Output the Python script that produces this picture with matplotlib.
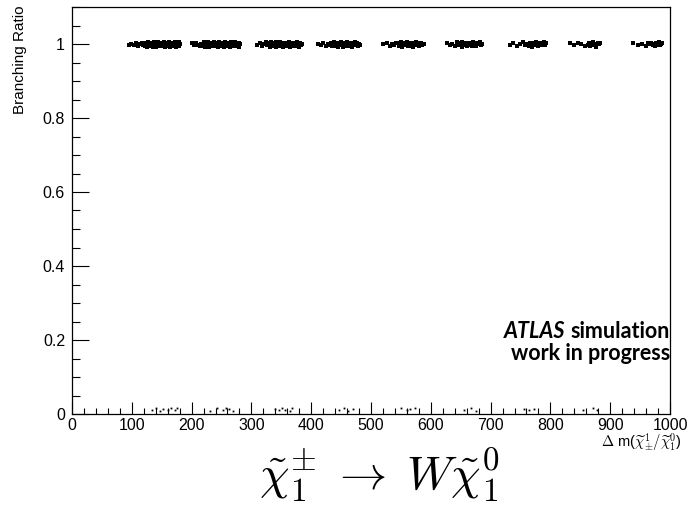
import matplotlib
matplotlib.use("Agg")
import matplotlib.pyplot as plt
from matplotlib.ticker import MultipleLocator

plt.rcParams['font.family'] = ['Liberation Sans', 'DejaVu Sans']
plt.rcParams['mathtext.fontset'] = 'cm'

# scatter of the chargino branching ratio vs mass splitting, one list per mass point
c1_x = [95, 99, 104, 107, 111, 114, 117, 119.5,
        122, 123.2, 124.4, 125.6, 126.8, 128, 129.2, 130.4, 131.6, 132.8,
        134, 135.2, 136.4, 137.6, 138.8, 140, 141.2, 142.4, 143.6, 144.8,
        146, 147.2, 148.4, 149.6, 150.8, 152, 153.2, 154.4, 155.6, 156.8,
        158, 159.2, 160.4, 161.6, 162.8, 164, 165.2, 166.4, 167.6, 168.8,
        170, 171.2, 172.4, 173.6, 174.8, 176, 177.2, 178.4, 179.6, 180.8]
c1_y = [0.997, 1.001, 0.996, 1.003, 0.994, 1.000, 1.004, 0.998,
        0.995, 1.003, 0.999, 0.993, 1.006, 0.997, 1.001, 0.994, 1.004, 0.998,
        1.002, 0.992, 1.005, 0.996, 1.000, 0.993, 1.003, 0.997, 1.006, 0.995,
        1.001, 0.999, 0.994, 1.004, 0.998, 1.002, 0.996, 1.005, 0.993, 1.000,
        0.997, 1.003, 0.995, 1.006, 0.999, 0.992, 1.002, 0.996, 1.004, 0.994,
        1.001, 0.998, 1.005, 0.993, 1.000, 0.997, 1.003, 0.995, 1.006, 0.999]

c2_x = [200, 204, 208, 211, 214, 216,
        217.5, 218.8, 220.1, 221.4, 222.7, 224, 225.3, 226.6, 227.9, 229.2,
        230.5, 231.8, 233.1, 234.4, 235.7, 237, 238.3, 239.6, 240.9, 242.2,
        243.5, 244.8, 246.1, 247.4, 248.7, 250, 251.3, 252.6, 253.9, 255.2,
        256.5, 257.8, 259.1, 260.4, 261.7, 263, 264.3, 265.6, 266.9, 268.2,
        269.5, 270.8, 272.1, 273.4, 274.7, 276, 277.3, 278.6, 279.9, 281.2]
c2_y = [1.002, 0.996, 1.004, 0.998, 0.994, 1.001,
        1.001, 0.994, 1.005, 0.998, 0.992, 1.003, 0.996, 1.000, 1.006, 0.993,
        0.999, 1.004, 0.995, 1.002, 0.997, 1.006, 0.994, 1.001, 0.998, 1.004,
        0.993, 1.000, 1.005, 0.996, 1.002, 0.995, 0.999, 1.003, 0.992, 1.006,
        0.997, 1.001, 0.994, 1.004, 0.998, 1.002, 0.993, 1.005, 0.996, 1.000,
        1.003, 0.995, 0.999, 1.006, 0.994, 1.002, 0.997, 1.004, 0.993, 1.001]

c3_x = [309, 314, 318, 321, 324,
        326.5, 327.9, 329.3, 330.7, 332.1, 333.5, 334.9, 336.3, 337.7, 339.1,
        340.5, 341.9, 343.3, 344.7, 346.1, 347.5, 348.9, 350.3, 351.7, 353.1,
        354.5, 355.9, 357.3, 358.7, 360.1, 361.5, 362.9, 364.3, 365.7, 367.1,
        368.5, 369.9, 371.3, 372.7, 374.1, 375.5, 376.9, 378.3, 379.7, 381.1,
        382.5, 384]
c3_y = [0.998, 1.003, 0.995, 1.000, 1.005,
        0.996, 1.004, 0.999, 0.993, 1.002, 1.006, 0.995, 1.000, 0.997, 1.003,
        0.992, 1.005, 0.998, 1.001, 0.994, 1.006, 0.996, 1.002, 0.999, 0.993,
        1.004, 0.997, 1.000, 0.995, 1.003, 0.998, 1.005, 0.993, 1.001, 0.996,
        1.004, 0.994, 0.999, 1.002, 0.997, 1.006, 0.995, 1.000, 0.993, 1.003,
        0.998, 1.001]

c4_x = [411, 416, 420, 424, 428,
        431.5, 433, 434.5, 436, 437.5, 439, 440.5, 442, 443.5, 445, 446.5,
        448, 449.5, 451, 452.5, 454, 455.5, 457, 458.5, 460, 461.5, 463,
        464.5, 466, 467.5, 469, 470.5, 472, 473.5, 475, 476.5, 478, 479.5, 481]
c4_y = [1.001, 0.996, 1.004, 0.994, 0.999,
        0.997, 1.003, 0.994, 1.000, 1.006, 0.995, 1.002, 0.998, 1.004, 0.993,
        1.001, 0.996, 1.005, 0.999, 0.992, 1.003, 0.997, 1.000, 0.994, 1.006,
        0.998, 1.002, 0.995, 1.004, 0.999, 0.993, 1.001, 0.996, 1.005, 0.997,
        1.003, 0.994, 1.000, 0.998]

c5_x = [520, 526, 531, 535, 539, 542,
        545.5, 547, 548.5, 550, 551.5, 553, 554.5, 556, 557.5, 559, 560.5,
        562, 563.5, 565, 566.5, 568, 569.5, 571, 572.5, 574, 575.5, 577,
        578.5, 580, 581.5, 583, 584.5, 589]
c5_y = [0.999, 1.004, 0.995, 1.001, 0.997, 1.003,
        1.002, 0.995, 0.999, 1.005, 0.993, 1.001, 0.997, 1.004, 0.996, 1.000,
        1.006, 0.994, 0.998, 1.003, 0.995, 1.001, 0.992, 1.004, 0.997, 1.000,
        1.005, 0.996, 1.002, 0.994, 0.999, 1.003, 0.998, 1.000]

c6_x = [627, 632, 636, 640, 643,
        645.5, 647.5, 649.5, 651.5, 653, 655, 657, 659, 661, 663, 664.5,
        666.5, 668.5, 670.5, 672.5, 674.5, 676, 678, 680, 682, 684, 686]
c6_y = [1.003, 0.997, 1.000, 0.994, 1.005,
        0.996, 1.002, 0.999, 1.005, 0.993, 1.001, 0.997, 1.004, 0.995, 1.000,
        1.003, 0.998, 0.994, 1.006, 0.997, 1.001, 0.995, 1.003, 0.999, 1.005,
        0.996, 1.001]

c7_x = [732, 738, 744, 749, 754, 758,
        761.5, 763.5, 765.5, 767.5, 770, 772, 774, 776, 778, 780, 782.5,
        784.5, 786.5, 788.5, 790.5, 792.5]
c7_y = [0.998, 1.003, 0.995, 1.001, 1.005, 0.997,
        1.001, 0.995, 1.004, 0.998, 0.993, 1.002, 0.997, 1.005, 0.999, 0.994,
        1.003, 0.996, 1.000, 1.006, 0.997, 1.002]

c8_x = [833, 840, 846, 852, 858,
        863, 865, 867, 869, 871, 873, 875, 877, 879, 881, 883]
c8_y = [1.002, 0.996, 1.004, 0.999, 0.994,
        0.998, 1.003, 0.995, 1.001, 1.005, 0.997, 1.000, 0.993, 1.004, 0.999,
        1.002]

c9_x = [938, 946, 953, 960, 964,
        967, 969, 971, 973, 975, 977, 979, 981, 983, 985, 987]
c9_y = [1.004, 0.997, 1.001, 0.995, 1.003,
        0.999, 1.004, 0.996, 1.001, 0.994, 1.003, 0.998, 1.005, 0.997, 1.000,
        1.002]

# events with BR ~ 0
low_x = [133, 140, 147, 152, 160, 165, 172, 176,
         230, 243, 252, 258, 262, 270,
         340, 346, 352, 357, 364, 368,
         447, 455, 462, 470,
         550, 560, 565, 573,
         655, 668, 676,
         756, 764, 772,
         855, 872, 878]
low_y = [0.012, 0.016, 0.008, 0.014, 0.010, 0.017, 0.012, 0.015,
         0.009, 0.015, 0.011, 0.017, 0.013, 0.008,
         0.014, 0.010, 0.016, 0.012, 0.009, 0.015,
         0.011, 0.016, 0.008, 0.013,
         0.015, 0.010, 0.013, 0.017,
         0.012, 0.016, 0.009,
         0.014, 0.010, 0.013,
         0.011, 0.015, 0.012]

xs = c1_x + c2_x + c3_x + c4_x + c5_x + c6_x + c7_x + c8_x + c9_x
ys = c1_y + c2_y + c3_y + c4_y + c5_y + c6_y + c7_y + c8_y + c9_y

fig = plt.figure(figsize=(6.97, 5.05), dpi=100)
ax = fig.add_axes([72/697, 1 - 414/505, 598/697, 407/505])

ax.plot(xs, ys, 's', color='black', markersize=2.3, markeredgewidth=0)
ax.plot(low_x, low_y, 's', color='black', markersize=1.3, markeredgewidth=0)

ax.set_xlim(0, 1000)
ax.set_ylim(0, 1.1)
ax.xaxis.set_major_locator(MultipleLocator(100))
ax.xaxis.set_minor_locator(MultipleLocator(20))
ax.yaxis.set_major_locator(MultipleLocator(0.2))
ax.yaxis.set_minor_locator(MultipleLocator(0.05))
ax.set_yticks([0, 0.2, 0.4, 0.6, 0.8, 1])
ax.set_yticklabels(['0', '0.2', '0.4', '0.6', '0.8', '1'])

ax.tick_params(axis='x', which='major', direction='in', length=8.6, width=0.8,
               labelsize=11.5, pad=3)
ax.tick_params(axis='x', which='minor', direction='in', length=4.3, width=0.8)
ax.tick_params(axis='y', which='major', direction='in', length=12.2, width=0.8,
               labelsize=11.5, pad=5)
ax.tick_params(axis='y', which='minor', direction='in', length=6.1, width=0.8)
for sp in ax.spines.values():
    sp.set_linewidth(0.9)

fig.text(20/697, 1 - 5/505, 'Branching Ratio', rotation=90, ha='center',
         va='top', fontsize=11)
fig.text(682/697, 1 - 448/505,
         r'$\Delta$ m($\widetilde{\chi}^{1}_{\pm}/\widetilde{\chi}^{0}_{1}$)',
         ha='right', va='baseline', fontsize=10.5)

# ATLAS label, mixed styles on the first line
sim = ax.text(670/697, 1 - 338/505, 'simulation', transform=fig.transFigure,
              ha='right', va='baseline', fontsize=15.5, fontweight='bold',
              family='Lato')
fig.canvas.draw()
bb = sim.get_window_extent()
fig.text((bb.x0 - 5) / 697, 1 - 338/505, 'ATLAS', ha='right', va='baseline',
         fontsize=15.5, fontweight='bold', fontstyle='italic', family='Lato')
fig.text(670/697, 1 - 360/505, 'work in progress', ha='right', va='baseline',
         fontsize=15.5, fontweight='bold', family='Lato')

fig.text(379/697, 1 - 489/505,
         r'$\tilde{\chi}_1^{\pm}\;\rightarrow\;W\tilde{\chi}_1^0$',
         ha='center', va='baseline', fontsize=34)

fig.savefig('out.png', dpi=100)
